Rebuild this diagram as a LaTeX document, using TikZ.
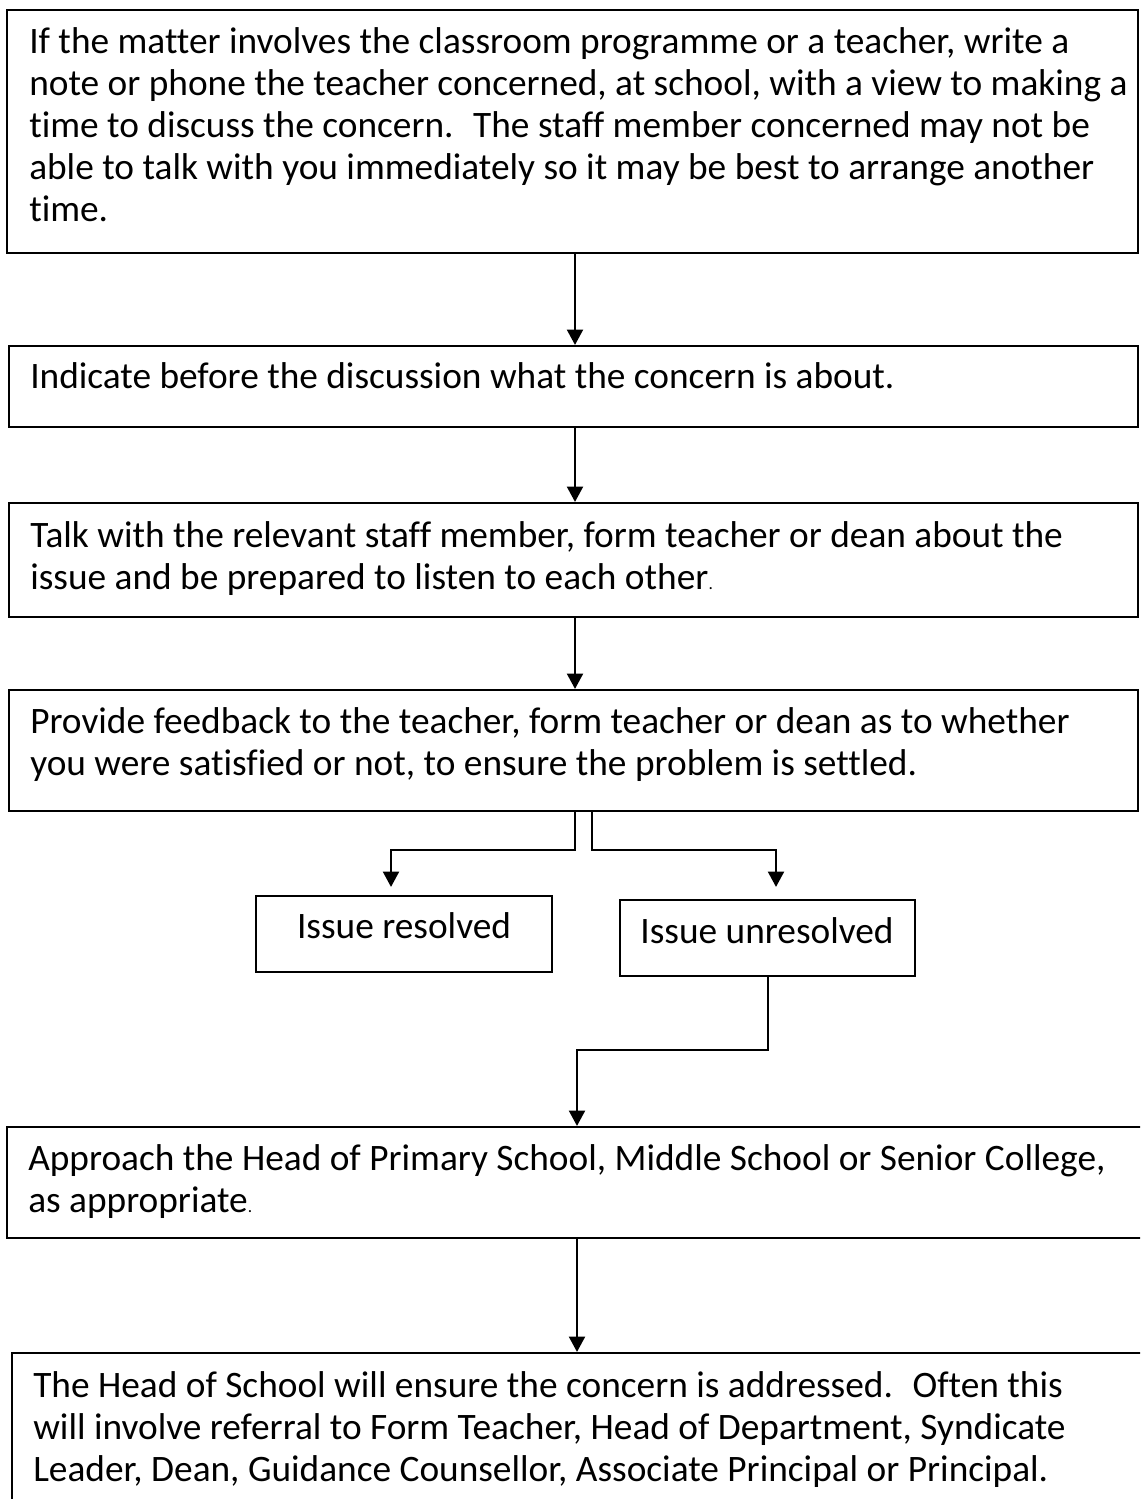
\documentclass[tikz,border=0pt]{standalone}
\usepackage{fontspec}
\setmainfont{Carlito}[Ligatures=NoCommon]
\usetikzlibrary{arrows.meta,fit}
\begin{document}
\begin{tikzpicture}[x=0.75pt,y=-0.75pt,
  boxr/.style={draw=black, line width=1.6pt, inner sep=0pt},
  txt/.style={inner sep=0pt, anchor=base west, font=\fontsize{28}{31.5}\selectfont},
  ctxt/.style={inner sep=0pt, anchor=base, font=\fontsize{28}{31.5}\selectfont},
  arr/.style={line width=1.5pt, -{Triangle[length=11.5pt,width=12pt]}}]
\clip (0,0) rectangle (1140,1499);
% boxes
\node[boxr, fit={(7,10) (1138,253)}] (b1) {};
\node[boxr, fit={(9,346) (1138,427)}] (b2) {};
\node[boxr, fit={(9,503) (1138,617)}] (b3) {};
\node[boxr, fit={(9,690) (1138,811)}] (b4) {};
\node[boxr, fit={(256,896) (552,972)}] (res) {};
\node[boxr, fit={(620,900) (915,976)}] (unres) {};
\node[boxr, fit={(7,1127) (1150,1238)}] (b5) {};
\node[boxr, fit={(12,1353) (1160,1530)}] (b6) {};
% texts
\node[txt] (t1) at (29,53) {\parbox[t]{900pt}{If the matter involves the classroom programme or a teacher, write a\\
note or phone the teacher concerned, at school, with a view to making a\\
time to discuss the concern.~ The staff member concerned may not be\\
able to talk with you immediately so it may be best to arrange another\\
time.}};
\node[txt] (t2) at (30,388) {Indicate before the discussion what the concern is about.};
\node[txt] (t3) at (30,547) {\parbox[t]{900pt}{Talk with the relevant staff member, form teacher or dean about the\\
issue and be prepared to listen to each other{\fontsize{13}{13}\selectfont .}}};
\node[txt] (t4) at (30,733) {\parbox[t]{900pt}{Provide feedback to the teacher, form teacher or dean as to whether\\
you were satisfied or not, to ensure the problem is settled.}};
\node[ctxt] (tr) at (404,938) {Issue resolved};
\node[ctxt] (tu) at (767,943) {Issue unresolved};
\node[txt] (t5) at (28,1170) {\parbox[t]{900pt}{Approach the Head of Primary School, Middle School or Senior College,\\
as appropriate{\fontsize{13}{13}\selectfont .}}};
\node[txt] (t6) at (33,1397) {\parbox[t]{900pt}{The Head of School will ensure the concern is addressed.~ Often this\\
will involve referral to Form Teacher, Head of Department, Syndicate\\
Leader, Dean, Guidance Counsellor, Associate Principal or Principal.}};
% connector helper coordinates
\coordinate (ax) at (575,0);
\coordinate (lx) at (575,850);
\coordinate (rx) at (592,850);
\coordinate (lb) at (391,850);
\coordinate (rb) at (776,850);
\coordinate (ux) at (577,1050);
% connectors
\draw[arr] (b1.south -| ax) -- (b2.north -| ax);
\draw[arr] (b2.south -| ax) -- (b3.north -| ax);
\draw[arr] (b3.south -| ax) -- (b4.north -| ax);
\draw[arr, shorten >=6pt] (b4.south -| lx) -- (lx) -- (lb) -- (res.north -| lb);
\draw[arr, shorten >=9pt] (b4.south -| rx) -- (rx) -- (rb) -- (unres.north -| rb);
\draw[arr] (unres.south) -- (unres.south |- ux) -- (ux) -- (b5.north -| ux);
\draw[arr] (b5.south -| ux) -- (b6.north -| ux);
\end{tikzpicture}
\end{document}
